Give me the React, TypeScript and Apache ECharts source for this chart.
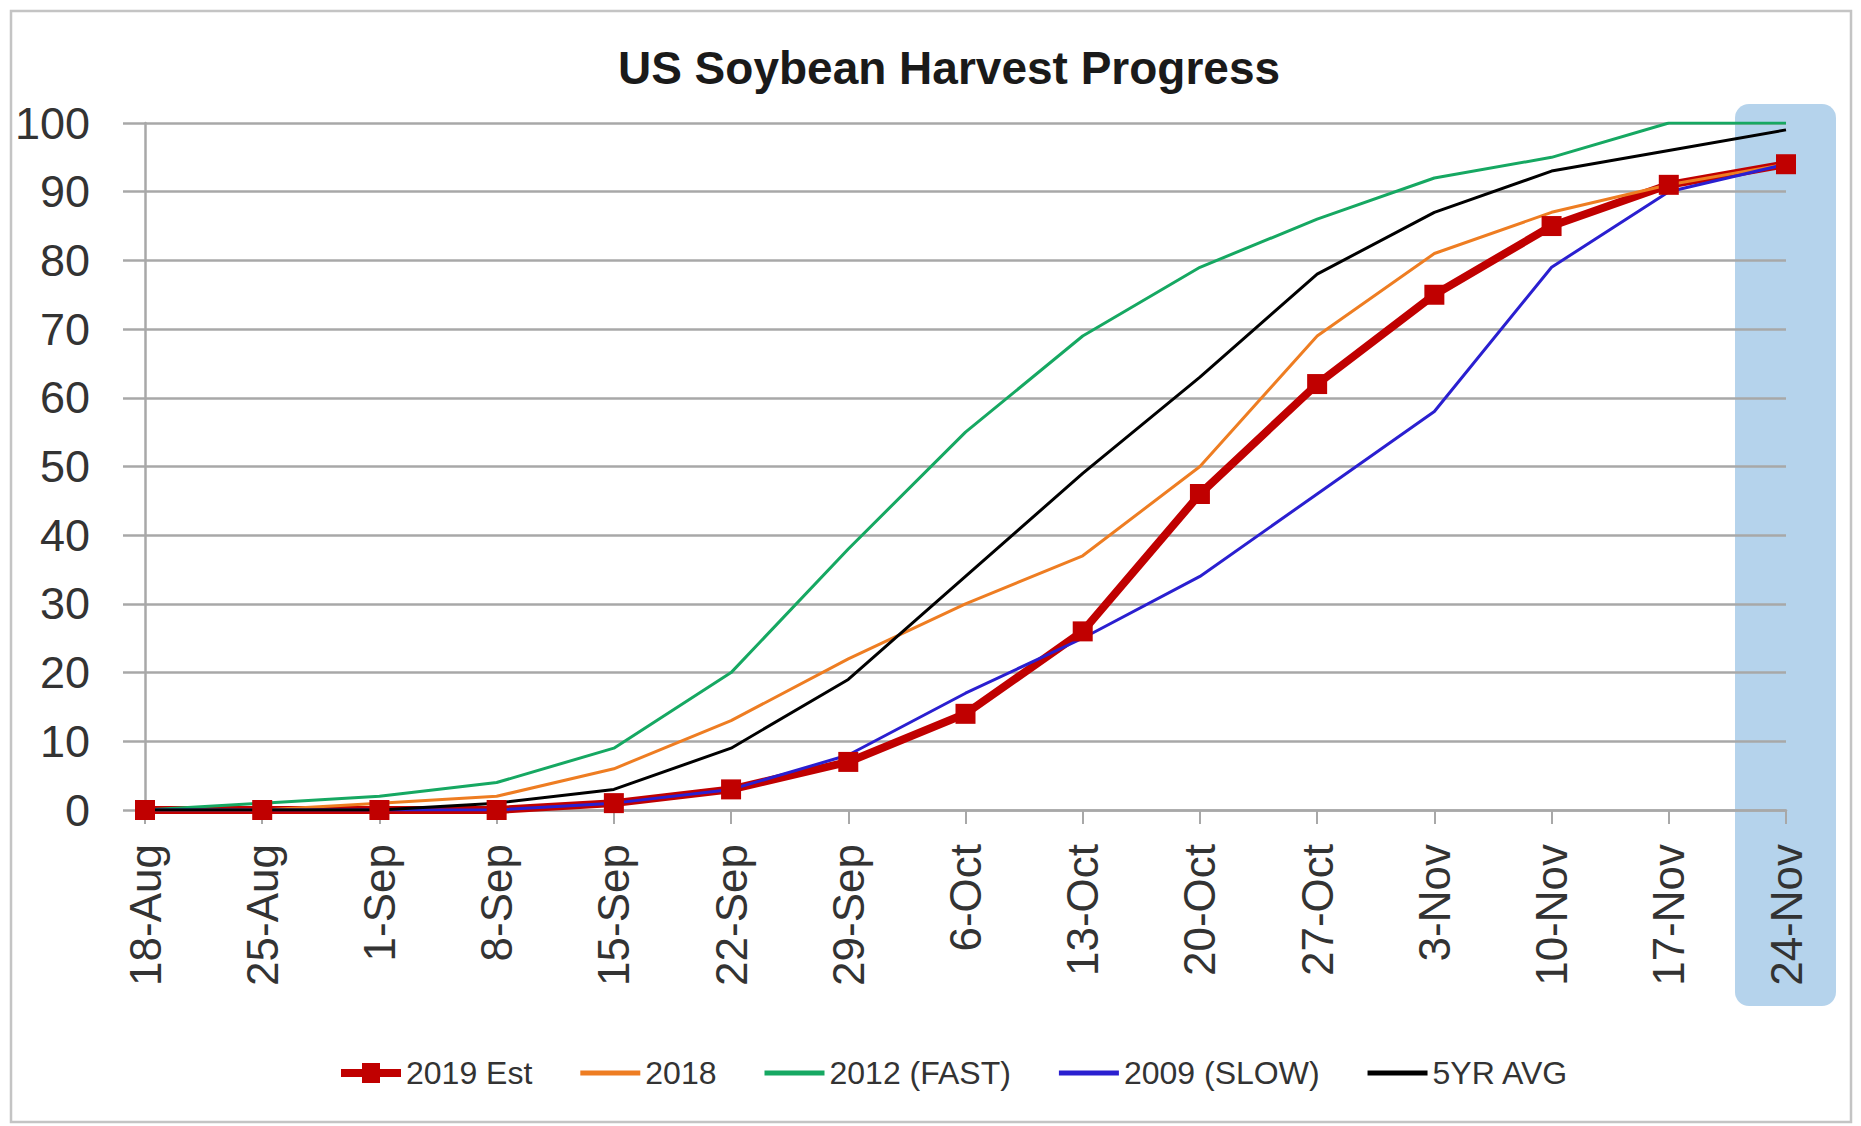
import React, { useEffect, useRef } from "react";
import * as echarts from "echarts";

// Week-ending dates of the harvest season
const weeks = [
  "18-Aug", "25-Aug", "1-Sep", "8-Sep", "15-Sep", "22-Sep", "29-Sep", "6-Oct",
  "13-Oct", "20-Oct", "27-Oct", "3-Nov", "10-Nov", "17-Nov", "24-Nov",
];

// Percent of soybean acreage harvested
const est2019 = [0, 0, 0, 0, 1, 3, 7, 14, 26, 46, 62, 75, 85, 91, 94];
const y2018 = [0, 0, 1, 2, 6, 13, 22, 30, 37, 50, 69, 81, 87, 91, 94];
const y2012Fast = [0, 1, 2, 4, 9, 20, 38, 55, 69, 79, 86, 92, 95, 100, 100];
const y2009Slow = [0, 0, 0, 0, 1, 3, 8, 17, 25, 34, 46, 58, 79, 90, 94];
const avg5yr = [0, 0, 0, 1, 3, 9, 19, 34, 49, 63, 78, 87, 93, 96, 99];

const seriesNames = ["2019 Est", "2018", "2012 (FAST)", "2009 (SLOW)", "5YR AVG"];
const seriesColors = ["#c00000", "#ee7d22", "#16a862", "#2a1fd0", "#000000"];

const FONT = "'Liberation Sans', Arial, sans-serif";

// Legend glyphs: a thick bar with a square for the estimate, plain bars otherwise
const ICON_MARKED = "path://M0,6 H21 V0 H39 V6 H60 V14 H39 V20 H21 V14 H0 Z";
const ICON_PLAIN = "path://M0,0 H60 V5 H0 Z";

export default function App() {
  const ref = useRef<HTMLDivElement>(null);

  useEffect(() => {
    if (!ref.current) return;
    const chart = echarts.init(ref.current, null, { renderer: "svg" });

    const thin = (name: string, data: number[], color: string) => ({
      name,
      type: "line",
      data,
      symbol: "none",
      lineStyle: { color, width: 3 },
      itemStyle: { color },
    });

    chart.setOption({
      animation: false,
      backgroundColor: "#ffffff",
      title: {
        text: "US Soybean Harvest Progress",
        left: 944,
        textAlign: "center",
        top: 40,
        textStyle: {
          fontFamily: FONT,
          fontWeight: "bold",
          fontSize: 46,
          color: "#1a1a1a",
        },
      },
      legend: {
        bottom: 32,
        left: 336,
        itemWidth: 60,
        itemHeight: 20,
        itemGap: 48,
        textStyle: { fontFamily: FONT, fontSize: 32, color: "#333333" },
        data: seriesNames.map((name, i) => ({
          name,
          icon: i === 0 ? ICON_MARKED : ICON_PLAIN,
        })),
      },
      grid: { left: 145, right: 75, top: 123, bottom: 316 },
      xAxis: {
        type: "category",
        data: weeks,
        boundaryGap: false,
        axisLine: { lineStyle: { color: "#a8a8a8", width: 2.5 } },
        axisTick: {
          show: true,
          alignWithLabel: true,
          length: 14,
          lineStyle: { color: "#a8a8a8", width: 2 },
        },
        axisLabel: {
          rotate: 90,
          margin: 34,
          fontFamily: FONT,
          fontSize: 44,
          color: "#333333",
          interval: 0,
        },
      },
      yAxis: {
        type: "value",
        min: 0,
        max: 100,
        interval: 10,
        axisLine: { show: true, lineStyle: { color: "#a8a8a8", width: 2.5 } },
        axisTick: {
          show: true,
          length: 22,
          lineStyle: { color: "#a8a8a8", width: 2.5 },
        },
        splitLine: { lineStyle: { color: "#a8a8a8", width: 2.5 } },
        axisLabel: {
          margin: 55,
          fontFamily: FONT,
          fontSize: 45,
          color: "#333333",
        },
      },
      series: [
        {
          name: seriesNames[0],
          type: "line",
          data: est2019,
          symbol: "rect",
          symbolSize: 20,
          lineStyle: { color: seriesColors[0], width: 8 },
          itemStyle: { color: seriesColors[0] },
        },
        thin(seriesNames[1], y2018, seriesColors[1]),
        thin(seriesNames[2], y2012Fast, seriesColors[2]),
        thin(seriesNames[3], y2009Slow, seriesColors[3]),
        thin(seriesNames[4], avg5yr, seriesColors[4]),
      ],
    });

    // Highlight band behind the latest week, plus the outer chart frame
    const cx = chart.convertToPixel({ xAxisIndex: 0 }, weeks.length - 1) as number;
    chart.setOption({
      graphic: {
        elements: [
          {
            type: "rect",
            z: -10,
            shape: { x: cx - 51, y: 104, width: 101, height: 902, r: 14 },
            style: { fill: "rgba(150,192,228,0.7)" },
          },
          {
            type: "rect",
            z: -20,
            shape: { x: 11, y: 11, width: 1840, height: 1111 },
            style: { fill: "none", stroke: "#c4c4c4", lineWidth: 2.5 },
          },
        ],
      },
    });

    return () => chart.dispose();
  }, []);

  return (
    <div
      ref={ref}
      style={{ position: "fixed", left: 0, top: 0, width: 1861, height: 1126 }}
    />
  );
}
